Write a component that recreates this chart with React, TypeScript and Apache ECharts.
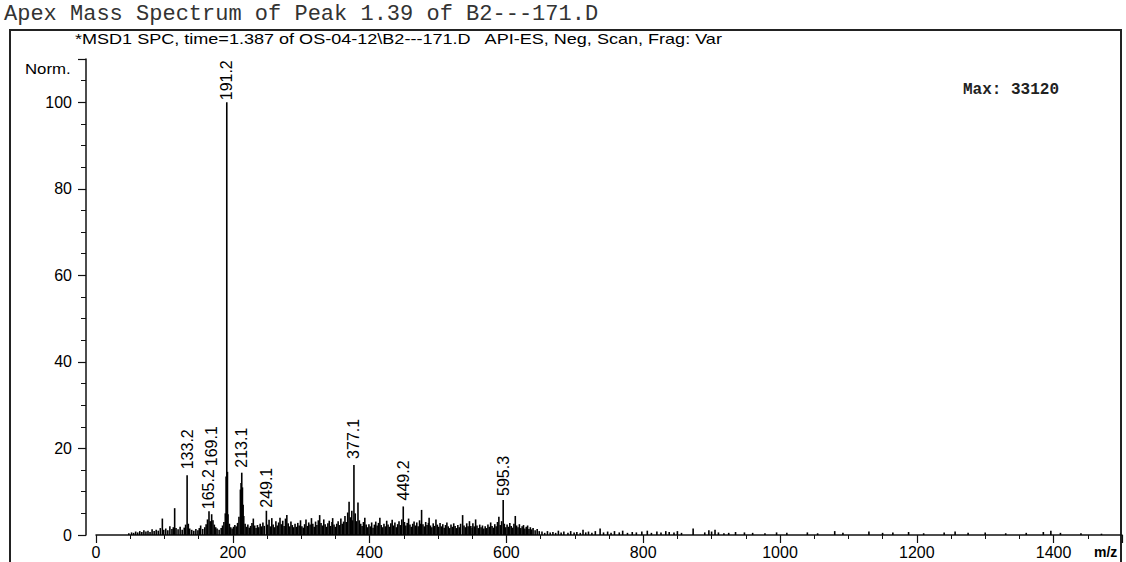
import { useEffect, useRef } from "react";
import * as echarts from "echarts";

const titleText = "Apex Mass Spectrum of Peak 1.39 of B2---171.D";
const subtitleText =
  "*MSD1 SPC, time=1.387 of OS-04-12\\B2---171.D   API-ES, Neg, Scan, Frag: Var";
const maxText = "Max: 33120";
const yAxisTitle = "Norm.";
const xAxisTitle = "m/z";

// labelled peaks: [m/z, normalised intensity]
const labeledPeaks: [number, number][] = [
  [133.2, 13.8],
  [165.2, 5.5],
  [169.1, 4.8],
  [191.2, 100],
  [213.1, 14.4],
  [249.1, 5.6],
  [377.1, 16.2],
  [449.2, 6.6],
  [595.3, 8.1],
];
const labelDistances = [6, 2, 48, 2, 5, 3, 6, 6, 4];

const lowMassNoise: [number, number][] = [
  [48, 0.4], [52, 0.6], [55, 0.5], [58, 0.8], [61, 0.6], [64, 0.9], [67, 0.7],
  [70, 1.1], [73, 0.8], [76, 1.0], [79, 0.7], [82, 1.3], [85, 0.9], [88, 1.2],
  [91, 1.0], [94, 1.6], [97, 3.8], [99, 1.2], [102, 1.5], [105, 1.1], [108, 2.0],
  [111, 1.4], [113, 1.8], [115, 6.2], [117, 1.6], [120, 1.3], [123, 1.9], [126, 1.2],
  [129, 1.7], [131, 2.4], [135, 2.6], [137, 1.5], [140, 1.2], [143, 1.0], [146, 1.4],
  [149, 1.1], [151, 1.6], [153, 2.2], [156, 1.4], [159, 1.8], [161, 2.5], [163, 3.6],
  [167, 3.2], [171, 3.4], [173, 2.4], [175, 1.8], [177, 1.5], [180, 1.2], [183, 1.6],
  [185, 2.2], [187, 3.0], [189, 5.0], [190.2, 13.5], [192.2, 14.6], [193, 4.8],
  [195, 2.6], [197, 1.8], [199, 1.5], [201, 1.9], [203, 2.3], [205, 2.0], [207, 2.8],
  [209, 4.2], [211.1, 10.5], [212.1, 12.0], [214.1, 11.0], [215.1, 7.0], [216, 4.4],
  [218, 2.6], [220, 1.9], [222, 2.4], [224, 1.7], [226, 2.1], [228, 2.8], [230, 3.8],
  [232, 2.2], [234, 1.6], [236, 2.3], [238, 1.8], [240, 2.6], [242, 2.0], [244, 2.9],
  [246, 2.1],
];

const midMassNoise: [number, number][] = [
  [251, 2.4], [253, 3.5], [255, 2.0], [257, 3.9], [259, 2.4], [261, 1.8], [263, 3.2],
  [265, 2.2], [267, 2.9], [269, 4.0], [271, 2.5], [273, 3.3], [275, 2.1], [277, 3.8],
  [279, 4.6], [281, 2.7], [283, 2.0], [285, 3.1], [287, 2.3], [289, 1.8], [291, 2.6],
  [293, 1.9], [295, 2.8], [297, 2.2], [299, 3.4], [301, 2.0], [303, 1.7], [305, 2.5],
  [307, 3.6], [309, 2.1], [311, 2.9], [313, 2.4], [315, 3.9], [317, 2.6], [319, 1.9],
  [321, 3.1], [323, 2.3], [325, 3.4], [327, 4.6], [329, 2.8], [331, 2.2], [333, 3.6],
  [335, 2.5], [337, 1.9], [339, 2.7], [341, 3.3], [343, 2.1], [345, 3.0], [346, 3.9],
  [348, 2.4], [350, 1.9], [352, 2.6], [354, 3.2], [356, 2.3], [358, 3.8], [360, 2.6],
  [362, 3.1], [364, 4.4], [366, 3.0], [368, 5.2], [370, 7.7], [372, 4.1], [374, 5.6],
  [375, 3.4], [379, 5.0], [381, 3.2], [383, 7.5], [385, 3.4], [387, 2.6], [389, 2.1],
  [391, 3.0], [393, 4.0], [395, 2.4], [397, 1.8], [399, 2.5], [401, 2.0], [403, 2.9],
  [405, 1.7], [407, 2.4], [409, 3.1], [411, 2.2], [413, 2.8], [415, 4.0], [417, 2.3],
  [419, 1.8], [421, 2.6], [423, 2.0], [425, 3.3], [427, 2.4], [429, 1.9], [431, 2.7],
  [433, 3.5], [435, 2.2], [437, 2.9], [439, 1.8], [441, 2.5], [443, 3.2], [445, 2.3],
  [447, 3.6], [451, 3.0], [453, 2.2], [455, 2.8], [457, 3.8], [459, 2.4], [461, 1.9],
  [463, 2.6], [465, 3.1], [467, 2.2], [469, 2.9], [471, 2.0], [473, 3.4], [474, 2.6],
  [476, 5.8], [478, 2.5], [480, 2.0], [482, 3.0], [484, 2.3], [486, 2.8], [487, 4.0],
  [489, 2.2], [491, 1.8], [493, 2.7], [495, 2.1], [497, 3.6], [499, 2.4], [501, 1.9],
  [503, 2.8], [505, 2.0], [507, 2.5], [509, 1.7], [511, 2.3], [513, 2.9], [515, 2.0],
  [517, 1.6], [519, 2.4], [521, 1.9], [523, 2.7], [525, 2.1], [527, 1.6], [529, 2.3],
  [531, 1.8], [533, 2.6], [536, 4.6], [538, 2.2], [540, 1.8], [542, 2.7], [544, 2.0],
  [546, 3.2], [548, 2.1], [550, 1.7], [551, 2.7], [553, 2.0], [555, 3.6], [557, 2.2],
  [559, 1.6], [561, 2.4], [563, 1.8], [565, 2.2], [567, 1.5], [569, 2.0], [571, 1.6],
  [573, 2.4], [575, 1.9], [577, 2.9], [579, 2.1], [581, 1.7], [583, 2.5], [585, 2.0],
  [587, 3.0], [589, 4.2], [591, 2.3], [593, 3.2], [597, 2.6], [599, 1.8], [601, 2.4],
  [603, 1.9], [605, 2.8], [607, 2.1], [609, 1.7], [611, 2.6], [613, 4.4], [615, 2.2],
  [617, 1.8], [619, 2.5], [621, 1.6], [623, 2.0], [625, 2.3], [627, 1.5], [629, 1.9],
  [631, 2.2], [633, 1.4], [635, 1.8], [637, 1.3], [639, 1.6], [642, 1.1], [645, 1.4],
  [648, 0.9],
];

const highMassNoise: [number, number][] = [
  [652, 0.8], [656, 0.5], [660, 0.9], [664, 0.6], [668, 0.7], [672, 0.5], [676, 1.0],
  [680, 0.6], [684, 0.8], [690, 0.5], [694, 0.9], [699, 0.6], [703, 0.7], [708, 0.5],
  [712, 1.2], [716, 0.6], [720, 0.8], [725, 0.5], [730, 0.9], [737, 1.5], [742, 0.6],
  [748, 0.8], [753, 0.5], [758, 0.9], [765, 0.6], [770, 1.0], [777, 0.5], [784, 0.7],
  [790, 0.6], [798, 0.8], [806, 1.0], [812, 0.5], [820, 0.8], [826, 0.6], [833, 0.9],
  [838, 0.7], [845, 0.6], [850, 0.9], [856, 0.5], [873, 1.5], [890, 0.6], [896, 1.1],
  [900, 0.8], [905, 1.2], [910, 0.6], [918, 0.4], [925, 0.5], [935, 0.7], [948, 0.6],
  [960, 0.5], [978, 0.4], [995, 0.6], [1010, 0.5], [1040, 0.6], [1055, 0.4], [1080, 0.9],
  [1092, 0.5], [1130, 0.8], [1150, 0.5], [1165, 0.6], [1188, 0.7], [1210, 0.4],
  [1240, 0.6], [1256, 0.8], [1275, 0.5], [1300, 0.6], [1330, 0.4], [1360, 0.5],
  [1385, 0.7], [1396, 1.0], [1410, 0.5], [1440, 0.4], [1470, 0.3],
];

const sans = "'Liberation Sans', Arial, sans-serif";
const mono = "'Liberation Mono', 'DejaVu Sans Mono', monospace";

export default function App() {
  const ref = useRef<HTMLDivElement>(null);

  useEffect(() => {
    document.body.style.margin = "0";
    if (!ref.current) return;
    const chart = echarts.init(ref.current, undefined, { renderer: "svg" });

    const noise = [...lowMassNoise, ...midMassNoise, ...highMassNoise].map((p) => ({
      value: p,
    }));
    const peaks = labeledPeaks.map((p, i) => ({
      value: p,
      label: {
        show: true,
        position: "top" as const,
        rotate: 90,
        align: "left" as const,
        verticalAlign: "middle" as const,
        distance: labelDistances[i],
        formatter: p[0].toFixed(1),
        fontSize: 16,
        fontFamily: sans,
        color: "#000",
      },
    }));
    const data = [...noise, ...peaks].sort((a, b) => a.value[0] - b.value[0]);

    chart.setOption({
      animation: false,
      backgroundColor: "#fff",
      grid: { left: 96, right: 4, top: 59, bottom: 27, containLabel: false },
      xAxis: {
        type: "value",
        min: 0,
        max: 1500,
        interval: 200,
        axisLine: { show: true, onZero: false, lineStyle: { color: "#111", width: 1.5 } },
        axisTick: { show: true, length: 8, lineStyle: { color: "#111", width: 1.2 } },
        minorTick: { show: true, splitNumber: 4, length: 4, lineStyle: { color: "#111" } },
        splitLine: { show: false },
        axisLabel: {
          color: "#000",
          fontSize: 16,
          fontFamily: sans,
          margin: 9,
          showMaxLabel: false,
          formatter: (v: number) => String(v),
        },
      },
      yAxis: {
        type: "value",
        min: 0,
        max: 110,
        interval: 20,
        offset: 10,
        axisLine: { show: true, onZero: false, lineStyle: { color: "#111", width: 1.5 } },
        axisTick: { show: true, length: 8, lineStyle: { color: "#111", width: 1.2 } },
        minorTick: { show: true, splitNumber: 4, length: 5, lineStyle: { color: "#111" } },
        splitLine: { show: false },
        axisLabel: {
          color: "#000",
          fontSize: 16,
          fontFamily: sans,
          margin: 14,
          showMaxLabel: false,
          formatter: (v: number) => String(v),
        },
      },
      series: [
        {
          type: "bar",
          data,
          barWidth: 1.6,
          itemStyle: { color: "#000" },
          label: { show: false },
          emphasis: { disabled: true },
          silent: true,
        },
      ],
      graphic: [
        {
          type: "rect",
          shape: { x: 10, y: 30, width: 1111, height: 560 },
          style: { fill: "none", stroke: "#222", lineWidth: 2 },
          silent: true,
        },
        {
          type: "text",
          x: 4,
          y: 14,
          style: {
            text: titleText,
            font: `22px ${mono}`,
            fill: "#333",
            align: "left",
            verticalAlign: "middle",
          },
        },
        {
          type: "text",
          x: 75,
          y: 39,
          scaleX: 1.29,
          style: {
            text: subtitleText,
            font: `14px ${sans}`,
            fill: "#000",
            align: "left",
            verticalAlign: "middle",
          },
        },
        {
          type: "text",
          x: 25,
          y: 69,
          scaleX: 1.2,
          style: {
            text: yAxisTitle,
            font: `14px ${sans}`,
            fill: "#000",
            align: "left",
            verticalAlign: "middle",
          },
        },
        {
          type: "text",
          x: 963,
          y: 90,
          style: {
            text: maxText,
            font: `bold 16px ${mono}`,
            fill: "#222",
            align: "left",
            verticalAlign: "middle",
          },
        },
        {
          type: "text",
          x: 1094,
          y: 552,
          style: {
            text: xAxisTitle,
            font: `bold 14px ${sans}`,
            fill: "#000",
            align: "left",
            verticalAlign: "middle",
          },
        },
      ],
    });

    return () => chart.dispose();
  }, []);

  return (
    <div
      ref={ref}
      style={{ position: "fixed", left: 0, top: 0, width: 1126, height: 562, background: "#fff" }}
    />
  );
}
